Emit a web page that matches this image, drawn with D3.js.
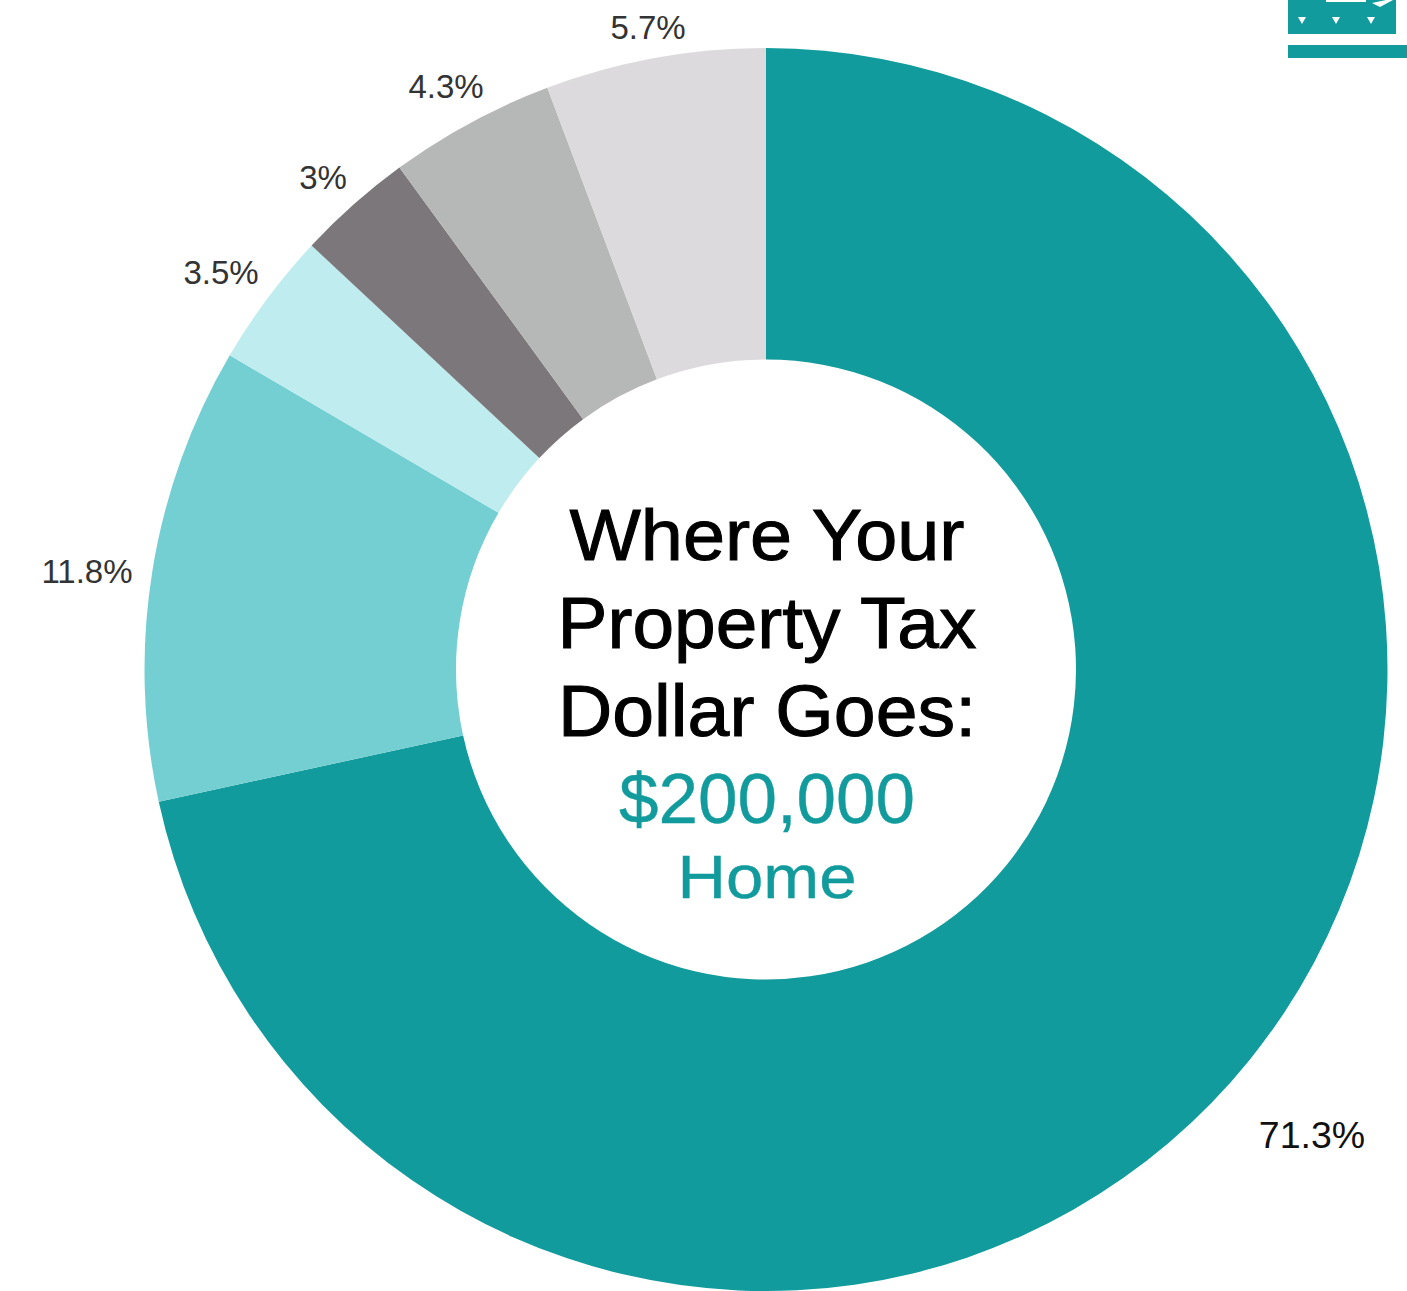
<!DOCTYPE html>
<html><head><meta charset="utf-8">
<script src="https://cdn.jsdelivr.net/npm/d3@7"></script>
<style>html,body{margin:0;padding:0;background:#fff}svg{display:block}</style></head>
<body><svg id="c" width="1407" height="1291"></svg>
<script>
const values=[71.3,11.8,3.5,3,4.3,5.7];
const labels=["71.3%","11.8%","3.5%","3%","4.3%","5.7%"];
const colors=["#129b9c","#74cfd3","#bfecee","#7b777b","#b6b7b7","#dcdadc"];
const labelPos=[[1312,1135],[87,571],[221,272],[323,177],[446,86],[648,27]];
const labelSizes=[37.5,33,33,33,33,33];
const labelColors=["#111","#333","#333","#333","#333","#333"];
const titleLines=["Where Your","Property Tax","Dollar Goes:","$200,000","Home"];
const titleY=[535,623,711,798,877];
const titleColors=["#000","#000","#000","#129b9c","#129b9c"];
const titleSizes=[72,72,72,71,61];
const titleStretch=[1.05,1.04,1.045,1.0,1.1];
const titleStroke=[1,1,1,0.4,0.4];
const iconMarks=[1302,1336,1371];

const svg=d3.select("#c");
const g=svg.append("g").attr("transform","translate(766,669.5)");
const pie=d3.pie().sort(null).value(d=>d);
const arc=d3.arc().innerRadius(310).outerRadius(621.5);
g.selectAll("path").data(pie(values)).join("path")
 .attr("d",arc).attr("fill",(d,i)=>colors[i]);

svg.selectAll("text.l").data(labels).join("text").attr("class","l")
 .attr("x",(d,i)=>labelPos[i][0]).attr("y",(d,i)=>labelPos[i][1])
 .attr("text-anchor","middle").attr("dominant-baseline","central")
 .attr("font-family","Liberation Sans").attr("font-size",(d,i)=>labelSizes[i])
 .attr("fill",(d,i)=>labelColors[i]).text(d=>d);

svg.selectAll("text.t").data(titleLines).join("text").attr("class","t")
 .attr("transform",(d,i)=>`translate(767,${titleY[i]}) scale(${titleStretch[i]},1)`)
 .attr("text-anchor","middle").attr("dominant-baseline","central")
 .attr("font-family","Liberation Sans").attr("font-size",(d,i)=>titleSizes[i])
 .attr("fill",(d,i)=>titleColors[i]).attr("stroke",(d,i)=>titleColors[i])
 .attr("stroke-width",(d,i)=>titleStroke[i]).text(d=>d);

// corner icon fragment
svg.append("rect").attr("x",1288).attr("y",0).attr("width",108).attr("height",34).attr("fill","#129b9c");
svg.append("rect").attr("x",1288).attr("y",45).attr("width",119).attr("height",13).attr("fill","#129b9c");
svg.append("rect").attr("x",1326).attr("y",0).attr("width",40).attr("height",2).attr("fill","#fff");
svg.append("path").attr("d","M1372 3 L1386 0 L1393 0 L1380 7 Z").attr("fill","#fff");
svg.selectAll("path.m").data(iconMarks).join("path").attr("class","m")
 .attr("d",d=>`M${d-4} 17 L${d+4} 17 L${d} 24 Z`).attr("fill","#fff");
</script></body></html>
